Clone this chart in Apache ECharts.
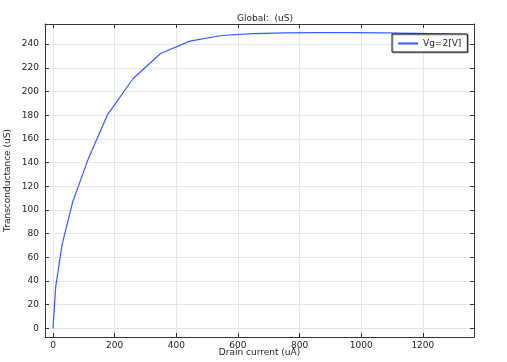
<!DOCTYPE html>
<html><head><meta charset="utf-8">
<script src="https://cdn.jsdelivr.net/npm/echarts@6/dist/echarts.min.js"></script>
<style>html,body{margin:0;padding:0;background:#fff}#c{width:507px;height:362px}</style>
</head><body><div id="c"></div>
<script>
const drainCurrent = [0, 8.7, 29, 64, 115, 176, 260, 349, 444, 547, 650, 755, 860, 965, 1070, 1175, 1260, 1342];
const transconductance = [0, 35.1, 70.3, 106.9, 143.5, 180, 211, 232.1, 242.5, 247.3, 248.8, 249.5, 249.8, 249.8, 249.5, 249.0, 248.6, 248.2];
const xTicks = [0, 200, 400, 600, 800, 1000, 1200];
const yTicks = [0, 20, 40, 60, 80, 100, 120, 140, 160, 180, 200, 220, 240];
const seriesName = 'Vg=2[V]';

const chart = echarts.init(document.getElementById('c'));
const font = 'DejaVu Sans';
const frame = {show: true, onZero: false, lineStyle: {color: '#333', width: 1}};
const xMin = -26, xMax = 1366, yMin = -7.3, yMax = 257;
const plain = v => String(v);
chart.setOption({
  animation: false,
  title: {text: 'Global:  (uS)', left: 260, top: 9, textAlign: 'center',
    textStyle: {fontFamily: font, fontSize: 9, fontWeight: 'normal', color: '#222'}},
  grid: {left: 45, top: 24, width: 429, height: 313, containLabel: false, outerBoundsMode: 'none'},
  legend: {left: 392, top: 34, width: 72, height: 20, padding: [5, 6, 4, 6],
    borderColor: '#111', borderWidth: 1, backgroundColor: '#fff',
    shadowColor: 'rgba(0,0,0,0.3)', shadowOffsetX: 1, shadowOffsetY: 1, shadowBlur: 0,
    itemWidth: 20, itemHeight: 2, itemGap: 4, icon: 'rect',
    textStyle: {fontFamily: font, fontSize: 9, color: '#222'},
    data: [{name: seriesName}]},
  xAxis: [{
    type: 'value', min: xMin, max: xMax, position: 'bottom',
    name: 'Drain current (uA)', nameLocation: 'middle', nameGap: 11, nameMoveOverlap: false,
    nameTextStyle: {fontFamily: font, fontSize: 9, color: '#222', verticalAlign: 'top'},
    axisLine: frame,
    axisTick: {show: true, inside: true, length: 4, customValues: xTicks, lineStyle: {color: '#333'}},
    axisLabel: {customValues: xTicks, formatter: plain, fontFamily: font, fontSize: 9, color: '#222', margin: 4},
    splitLine: {show: true, lineStyle: {color: '#e6e6e6', width: 1}}
  }, {
    type: 'value', min: xMin, max: xMax, position: 'top',
    axisLine: frame,
    axisTick: {show: true, inside: true, length: 4, customValues: xTicks, lineStyle: {color: '#333'}},
    axisLabel: {show: false}, splitLine: {show: false}
  }],
  yAxis: [{
    type: 'value', min: yMin, max: yMax, position: 'left',
    name: 'Transconductance (uS)', nameLocation: 'middle', nameGap: 33, nameRotate: 90, nameMoveOverlap: false,
    nameTextStyle: {fontFamily: font, fontSize: 9, color: '#222'},
    axisLine: frame,
    axisTick: {show: true, inside: true, length: 4, customValues: yTicks, lineStyle: {color: '#333'}},
    axisLabel: {customValues: yTicks, formatter: plain, fontFamily: font, fontSize: 9, color: '#222', margin: 6},
    splitLine: {show: true, lineStyle: {color: '#e6e6e6', width: 1}}
  }, {
    type: 'value', min: yMin, max: yMax, position: 'right',
    axisLine: frame,
    axisTick: {show: true, inside: true, length: 4, customValues: yTicks, lineStyle: {color: '#333'}},
    axisLabel: {show: false}, splitLine: {show: false}
  }],
  series: [{
    name: seriesName, type: 'line', xAxisIndex: 0, yAxisIndex: 0,
    data: drainCurrent.map((x, i) => [x, transconductance[i]]),
    showSymbol: false, symbol: 'none',
    lineStyle: {color: '#3b5bfd', width: 1.2}, itemStyle: {color: '#3b5bfd'}
  }]
});
</script></body></html>
